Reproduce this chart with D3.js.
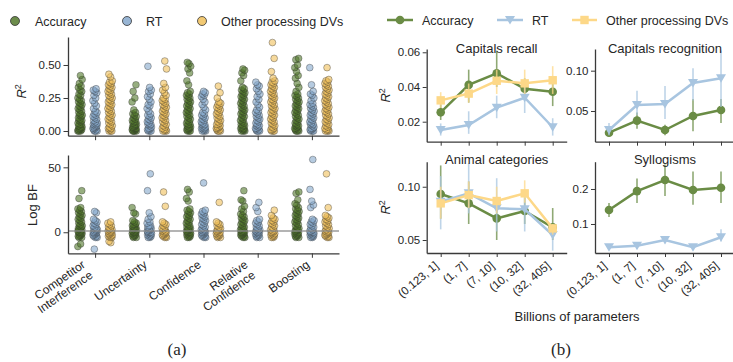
<!DOCTYPE html>
<html><head><meta charset="utf-8">
<script src="https://cdn.jsdelivr.net/npm/d3@7"></script>
<style>
body{margin:0;background:#fff}
svg{display:block}
text{font-family:"Liberation Sans",Arial,sans-serif;fill:#262626}
</style>
</head><body>
<svg id="c" width="733" height="362"></svg>
<script>
// ---------- DATA: panel (a) ----------
const categories = ["Competitor Interference","Uncertainty","Confidence","Relative Confidence","Boosting"];
const categoryLines = [["Competitor","Interference"],["Uncertainty"],["Confidence"],["Relative","Confidence"],["Boosting"]];
const seriesNames = ["Accuracy","RT","Other processing DVs"];

const r2Acc = [
 [0,0,0,0.01,0.01,0.01,0.02,0.02,0.03,0.03,0.04,0.05,0.05,0.06,0.07,0.08,0.08,0.09,0.1,0.11,0.12,0.12,0.13,0.14,0.15,0.16,0.17,0.18,0.19,0.2,0.21,0.22,0.23,0.24,0.25,0.27,0.28,0.3,0.31,0.33,0.34,0.36,0.39,0.42],
 [0,0,0,0,0.01,0.01,0.01,0.02,0.02,0.02,0.03,0.03,0.04,0.04,0.05,0.05,0.06,0.07,0.07,0.08,0.09,0.1,0.11,0.12,0.13,0.14,0.16,0.22,0.25,0.3,0.35],
 [0,0,0,0.01,0.01,0.02,0.02,0.03,0.03,0.04,0.05,0.05,0.06,0.07,0.08,0.09,0.1,0.11,0.12,0.13,0.14,0.15,0.16,0.17,0.18,0.19,0.2,0.21,0.22,0.23,0.24,0.25,0.26,0.27,0.28,0.29,0.3,0.35,0.38,0.44,0.47,0.49,0.51,0.52],
 [0,0,0,0.01,0.01,0.02,0.02,0.03,0.04,0.04,0.05,0.06,0.07,0.08,0.09,0.1,0.11,0.12,0.13,0.14,0.15,0.16,0.17,0.18,0.19,0.2,0.21,0.22,0.23,0.24,0.25,0.26,0.27,0.28,0.29,0.3,0.31,0.32,0.33,0.38,0.42,0.44,0.46,0.47],
 [0,0,0,0.01,0.01,0.02,0.02,0.03,0.04,0.04,0.05,0.06,0.07,0.08,0.09,0.1,0.11,0.12,0.13,0.14,0.15,0.16,0.17,0.18,0.19,0.2,0.21,0.22,0.23,0.24,0.25,0.26,0.27,0.28,0.3,0.33,0.36,0.4,0.42,0.45,0.48,0.5,0.54,0.55]
];
const r2RT = [
 [0,0,0,0.01,0.01,0.02,0.02,0.03,0.03,0.04,0.04,0.05,0.05,0.06,0.06,0.07,0.08,0.09,0.1,0.11,0.12,0.13,0.14,0.15,0.17,0.19,0.21,0.23,0.25,0.27,0.29,0.3,0.31,0.32],
 [0,0,0,0.01,0.01,0.02,0.02,0.03,0.04,0.05,0.05,0.06,0.07,0.08,0.09,0.1,0.11,0.12,0.13,0.15,0.17,0.19,0.2,0.22,0.24,0.26,0.28,0.3,0.31,0.33,0.49],
 [0,0,0,0.01,0.01,0.02,0.02,0.03,0.03,0.04,0.05,0.05,0.06,0.07,0.08,0.09,0.1,0.11,0.12,0.13,0.14,0.16,0.18,0.2,0.22,0.24,0.26,0.27,0.28,0.29,0.3],
 [0,0,0,0.01,0.01,0.02,0.02,0.03,0.04,0.04,0.05,0.06,0.07,0.08,0.09,0.1,0.11,0.12,0.13,0.14,0.15,0.16,0.18,0.2,0.22,0.24,0.26,0.28,0.3,0.32,0.34,0.35,0.37],
 [0,0,0,0.01,0.01,0.02,0.02,0.03,0.04,0.05,0.05,0.06,0.07,0.08,0.09,0.1,0.11,0.12,0.13,0.14,0.15,0.16,0.17,0.18,0.19,0.2,0.21,0.23,0.25,0.27,0.28,0.3,0.35,0.48]
];
const r2Other = [
 [0,0,0,0.01,0.02,0.02,0.03,0.04,0.05,0.06,0.07,0.08,0.09,0.1,0.11,0.12,0.13,0.14,0.15,0.16,0.17,0.18,0.19,0.2,0.21,0.22,0.23,0.24,0.25,0.26,0.27,0.28,0.29,0.3,0.31,0.32,0.33,0.34,0.35,0.36,0.37,0.38,0.41,0.43],
 [0,0,0,0.01,0.01,0.02,0.03,0.04,0.05,0.06,0.07,0.08,0.09,0.1,0.11,0.12,0.13,0.14,0.15,0.16,0.17,0.18,0.19,0.2,0.21,0.22,0.23,0.24,0.25,0.27,0.29,0.31,0.33,0.36,0.47,0.53],
 [0,0,0,0.01,0.01,0.02,0.02,0.03,0.03,0.04,0.05,0.05,0.06,0.07,0.08,0.09,0.1,0.11,0.12,0.13,0.14,0.15,0.16,0.17,0.18,0.19,0.2,0.21,0.22,0.25,0.29,0.34],
 [0,0,0,0.01,0.01,0.02,0.03,0.04,0.05,0.06,0.07,0.08,0.09,0.1,0.11,0.12,0.13,0.14,0.15,0.16,0.17,0.18,0.19,0.2,0.21,0.22,0.23,0.24,0.25,0.26,0.27,0.28,0.29,0.3,0.31,0.32,0.33,0.34,0.35,0.36,0.37,0.38,0.4,0.45,0.55,0.67],
 [0,0,0,0.01,0.01,0.02,0.03,0.04,0.05,0.06,0.07,0.08,0.09,0.1,0.11,0.12,0.13,0.14,0.15,0.16,0.17,0.18,0.19,0.2,0.21,0.22,0.23,0.24,0.25,0.26,0.27,0.28,0.29,0.3,0.31,0.32,0.33,0.34,0.35,0.36,0.37,0.38,0.39,0.48]
];
const bfAcc = [
 [-11,-9,-4,-4,-3,-3,-2,-2,-1,-1,0,0,0,1,1,2,2,3,3,4,5,5,6,7,8,9,10,11,12,13,14,15,16,17,18,19,26,32],
 [-4,-4,-3,-3,-2,-2,-1,-1,0,0,0,1,1,2,2,3,3,4,4,5,6,6,7,8,9,14,15,19],
 [-4,-4,-3,-3,-2,-2,-1,-1,0,0,0,1,1,2,2,3,3,4,5,6,7,8,9,10,11,12,13,14,15,16,17,18,24,26,31,33],
 [-4,-4,-3,-3,-2,-2,-1,-1,0,0,0,1,1,2,3,3,4,5,6,7,8,9,10,11,12,13,14,16,18,20,24,25,32],
 [-4,-4,-3,-3,-2,-2,-1,-1,0,0,1,1,2,2,3,4,5,6,7,8,9,10,11,12,13,14,15,16,17,18,19,21,22,25,30,31]
];
const bfRT = [
 [-13,-4,-4,-3,-3,-2,-2,-1,-1,0,0,0,1,1,2,2,3,3,4,5,6,7,8,9,10,15,16],
 [-4,-4,-3,-3,-2,-2,-1,-1,0,0,0,1,1,2,2,3,3,4,5,5,7,8,10,12,15,32,45],
 [-4,-4,-3,-3,-2,-2,-1,-1,0,0,0,1,1,2,2,3,4,5,6,7,8,9,10,11,12,13,14,15,16,17,38],
 [-4,-4,-3,-3,-2,-2,-1,-1,0,0,0,1,1,2,2,3,4,5,6,7,8,9,10,16,19,23],
 [-4,-4,-3,-3,-2,-2,-1,-1,0,0,0,1,1,2,3,4,5,6,7,8,9,10,19,21,24,33,56]
];
const bfOther = [
 [-8,-7,-4,-4,-3,-3,-2,-2,-1,-1,0,0,1,1,2,2,3,4,5,6,7,8],
 [-4,-4,-3,-3,-2,-2,-1,-1,0,0,1,1,2,3,4,5,6,7,8,20,31],
 [-4,-4,-3,-3,-2,-2,-1,-1,0,0,1,1,2,2,3,4,5,6,7,8,23],
 [-4,-4,-3,-3,-2,-2,-1,-1,0,0,1,1,2,3,4,5,6,7,8,9,10,11,13,17],
 [-4,-4,-3,-3,-2,-2,-1,-1,0,0,1,1,2,3,4,5,6,7,8,9,10,11,12,13,19,45]
];
const r2Ticks = [0, 0.25, 0.5];
const bfTicks = [0, 50];

// ---------- DATA: panel (b) ----------
const modelSizes = ["(0.123, 1]","(1, 7]","(7, 10]","(10, 32]","(32, 405]"];
const recallAcc = [0.0254,0.0412,0.0479,0.039,0.0373];
const recallAccCI = [[0.021,0.030],[0.031,0.050],[0.040,0.061],[0.034,0.045],[0.029,0.045]];
const recallRT = [0.0152,0.0181,0.0281,0.0338,0.0168];
const recallRTCI = [[0.012,0.019],[0.013,0.026],[0.022,0.035],[0.025,0.040],[0.012,0.022]];
const recallOther = [0.0323,0.0362,0.0436,0.0421,0.0439];
const recallOtherCI = [[0.028,0.037],[0.031,0.042],[0.036,0.050],[0.036,0.050],[0.036,0.052]];
const recogAcc = [0.0231,0.038,0.0264,0.0438,0.0512];
const recogAccCI = [[0.018,0.030],[0.028,0.048],[0.020,0.033],[0.025,0.065],[0.035,0.065]];
const recogRT = [0.0264,0.0574,0.0587,0.0847,0.0905];
const recogRTCI = [[0.020,0.035],[0.045,0.075],[0.040,0.081],[0.063,0.103],[0.055,0.125]];
const animalAcc = [0.0932,0.0844,0.0703,0.0772,0.0619];
const animalAccCI = [[0.07,0.12],[0.065,0.105],[0.05,0.09],[0.065,0.09],[0.05,0.08]];
const animalRT = [0.086,0.0938,0.0797,0.0788,0.0547];
const animalRTCI = [[0.06,0.11],[0.075,0.122],[0.058,0.108],[0.058,0.095],[0.04,0.065]];
const animalOther = [0.0844,0.0922,0.0866,0.0938,0.0609];
const animalOtherCI = [[0.07,0.10],[0.08,0.105],[0.075,0.10],[0.085,0.106],[0.055,0.065]];
const syllAcc = [0.14,0.194,0.2257,0.197,0.2037];
const syllAccCI = [[0.12,0.16],[0.16,0.23],[0.18,0.27],[0.155,0.25],[0.16,0.25]];
const syllRT = [0.0334,0.038,0.054,0.0334,0.062];
const syllRTCI = [[0.028,0.04],[0.03,0.046],[0.045,0.064],[0.028,0.04],[0.05,0.085]];
const recallTicks = [0.02,0.04,0.06];
const recogTicks = [0.05,0.10];
const animalTicks = [0.05,0.10];
const syllTicks = [0.1,0.2];

// ---------- STYLE ----------
const stripFill = ["#52782c","#86a8cc","#f0c05a"];
const lineCol = ["#6a8c45","#a8c5e0","#fdd888"];
const axisCol = "#3a3a3a";

const svg = d3.select("#c");

function styleAxis(g){
  g.select(".domain").attr("stroke",axisCol).attr("stroke-width",1.3);
  g.selectAll(".tick line").attr("stroke",axisCol).attr("stroke-width",1);
  g.selectAll(".tick text").attr("fill","#262626").style("font-size","11.5px").style("font-family",'"Liberation Sans",Arial,sans-serif');
}

// ---------- PANEL (a) ----------
const xCat = d3.scalePoint().domain(categories).range([68,339]).padding(0.5);
const offs = [-15,0,15];
const yR2 = d3.scaleLinear().domain([-0.0356,0.712]).range([135.7,37]);
const yBF = d3.scaleLinear().domain([-16.2,59.5]).range([253.3,155]);
const jit = (i,k) => ((((i+k*7)*0.61803398875) % 1) - 0.5) * 4.5;

function strips(yScale, sets){
  const g = svg.append("g");
  categories.forEach((c,ci)=>{
    sets.forEach((set,si)=>{
      set[ci].forEach((v,i)=>{
        g.append("circle")
          .attr("cx", xCat(c)+offs[si]+jit(i,ci+si))
          .attr("cy", yScale(v))
          .attr("r",3.4)
          .attr("fill",stripFill[si]).attr("fill-opacity",0.6)
          .attr("stroke","#2a2a2a").attr("stroke-opacity",0.6).attr("stroke-width",0.6);
      });
    });
  });
}
strips(yR2,[r2Acc,r2RT,r2Other]);
strips(yBF,[bfAcc,bfRT,bfOther]);

// reference line in Log BF panel
svg.append("line").attr("x1",68).attr("x2",339).attr("y1",yBF(1)).attr("y2",yBF(1))
  .attr("stroke","#8a8a8a").attr("stroke-width",1.4).attr("stroke-opacity",0.85);

svg.append("g").attr("transform","translate(68,0)")
  .call(d3.axisLeft(yR2).tickValues(r2Ticks).tickFormat(d3.format(".2f")).tickSize(4.5).tickSizeOuter(0).tickPadding(2.5)).call(styleAxis);
svg.append("g").attr("transform","translate(0,135.7)")
  .call(d3.axisBottom(xCat).tickSize(4.5).tickSizeOuter(0).tickFormat("")).call(styleAxis);
svg.append("g").attr("transform","translate(68,0)")
  .call(d3.axisLeft(yBF).tickValues(bfTicks).tickFormat(d3.format("d")).tickSize(4.5).tickSizeOuter(0).tickPadding(2.5)).call(styleAxis);
svg.append("g").attr("transform","translate(0,253.3)")
  .call(d3.axisBottom(xCat).tickSize(4.5).tickSizeOuter(0).tickFormat("")).call(styleAxis);

// category labels rotated
categories.forEach((c,ci)=>{
  const lines = categoryLines[ci];
  const n = lines.length;
  const yA = 259 + 0.82*(9 + (n-1)*13);
  const g = svg.append("g").attr("transform",`translate(${xCat(c)-1.5},${yA}) rotate(-35)`);
  lines.forEach((t,i)=>{
    g.append("text").attr("x",0).attr("y",-(n-1-i)*13).attr("text-anchor","end")
      .style("font-size","12px").text(t);
  });
});

// y labels
const r2a = svg.append("text").attr("transform",`translate(26,${yR2(0.3)}) rotate(-90)`).attr("text-anchor","middle").style("font-size","13px");
r2a.append("tspan").style("font-style","italic").text("R");
r2a.append("tspan").attr("dy",-5).style("font-size","9px").text("2");
svg.append("text").attr("transform",`translate(37,${yBF(21)}) rotate(-90)`).attr("text-anchor","middle").style("font-size","13px").text("Log BF");

// legend (a)
const legA = [15,127,202];
const legAT = [35,146,221];
seriesNames.forEach((s,i)=>{
  svg.append("circle").attr("cx",legA[i]).attr("cy",21).attr("r",4.5)
    .attr("fill",stripFill[i]).attr("fill-opacity",0.85).attr("stroke","#333").attr("stroke-width",0.8);
  svg.append("text").attr("x",legAT[i]).attr("y",25.5).style("font-size","12.5px").text(s);
});

svg.append("text").attr("x",177).attr("y",355).attr("text-anchor","middle")
  .style("font-family",'"Liberation Serif","Times New Roman",serif').style("font-size","17px").text("(a)");

// ---------- PANEL (b) ----------
const panels = [
  {title:"Capitals recall", x0:426.7, yr:[141.7,49], dom:[0.00847,0.0619], ticks:recallTicks, fmt:".2f",
   series:[[recallAcc,recallAccCI,0],[recallRT,recallRTCI,1],[recallOther,recallOtherCI,2]], ty:53.3, xl:false, ylab:true},
  {title:"Capitals recognition", x0:595, yr:[141.7,49], dom:[0.0119,0.1269], ticks:recogTicks, fmt:".2f",
   series:[[recogAcc,recogAccCI,0],[recogRT,recogRTCI,1]], ty:53.3, xl:false, ylab:false},
  {title:"Animal categories", x0:426.7, yr:[253,161.7], dom:[0.0378,0.1235], ticks:animalTicks, fmt:".2f",
   series:[[animalAcc,animalAccCI,0],[animalRT,animalRTCI,1],[animalOther,animalOtherCI,2]], ty:164, xl:true, ylab:true},
  {title:"Syllogisms", x0:595, yr:[253,161.7], dom:[0.0171,0.278], ticks:syllTicks, fmt:".1f",
   series:[[syllAcc,syllAccCI,0],[syllRT,syllRTCI,1]], ty:164, xl:true, ylab:false}
];

function marker(g, type, x, y, col){
  if(type===0){
    g.append("circle").attr("cx",x).attr("cy",y).attr("r",4.3).attr("fill",col);
  } else if(type===1){
    g.append("path").attr("d",`M${x-5},${y-4}L${x+5},${y-4}L${x},${y+4.5}Z`).attr("fill",col);
  } else {
    g.append("rect").attr("x",x-4.2).attr("y",y-4.2).attr("width",8.4).attr("height",8.4).attr("fill",col);
  }
}

panels.forEach(p=>{
  const x = d3.scalePoint().domain(modelSizes).range([p.x0,p.x0+140]).padding(0.5);
  const y = d3.scaleLinear().domain(p.dom).range(p.yr);
  const g = svg.append("g");
  p.series.forEach(([vals,ci,k])=>{
    ci.forEach((d,i)=>{
      g.append("line").attr("x1",x(modelSizes[i])).attr("x2",x(modelSizes[i]))
        .attr("y1",y(d[0])).attr("y2",y(d[1]))
        .attr("stroke",lineCol[k]).attr("stroke-width",1.6).attr("stroke-opacity",0.75);
    });
    g.append("path").datum(vals)
      .attr("d",d3.line().x((d,i)=>x(modelSizes[i])).y(d=>y(d)))
      .attr("fill","none").attr("stroke",lineCol[k]).attr("stroke-width",2.5);
    vals.forEach((v,i)=>marker(g,k,x(modelSizes[i]),y(v),lineCol[k]));
  });
  svg.append("g").attr("transform",`translate(${p.x0},0)`)
    .call(d3.axisLeft(y).tickValues(p.ticks).tickFormat(d3.format(p.fmt)).tickSize(4).tickSizeOuter(0).tickPadding(2.5)).call(styleAxis);
  svg.append("g").attr("transform",`translate(0,${p.yr[0]})`)
    .call(d3.axisBottom(x).tickSize(4).tickSizeOuter(0).tickFormat("")).call(styleAxis);
  svg.append("text").attr("x",p.x0+70).attr("y",p.ty).attr("text-anchor","middle").style("font-size","13px").text(p.title);
  if(p.xl){
    modelSizes.forEach(m=>{
      svg.append("text").attr("transform",`translate(${x(m)-1.5},${p.yr[0]+14}) rotate(-40)`)
        .attr("text-anchor","end").style("font-size","11.5px").text(m);
    });
  }
  if(p.ylab){
    const t = svg.append("text").attr("transform",`translate(390,${(p.yr[0]+p.yr[1])/2}) rotate(-90)`).attr("text-anchor","middle").style("font-size","13px");
    t.append("tspan").style("font-style","italic").text("R");
    t.append("tspan").attr("dy",-5).style("font-size","9px").text("2");
  }
});

svg.append("text").attr("x",577).attr("y",321).attr("text-anchor","middle").style("font-size","13px").text("Billions of parameters");

// legend (b)
const legB = [[387,413,422],[497,523,532],[572,597,606]];
seriesNames.forEach((s,i)=>{
  const [a,b,t] = legB[i];
  svg.append("line").attr("x1",a).attr("x2",b).attr("y1",20).attr("y2",20).attr("stroke",lineCol[i]).attr("stroke-width",2.5);
  marker(svg,i,(a+b)/2,20,lineCol[i]);
  svg.append("text").attr("x",t).attr("y",24.5).style("font-size","12.5px").text(s);
});

svg.append("text").attr("x",561).attr("y",355).attr("text-anchor","middle")
  .style("font-family",'"Liberation Serif","Times New Roman",serif').style("font-size","17px").text("(b)");
</script>
</body></html>
